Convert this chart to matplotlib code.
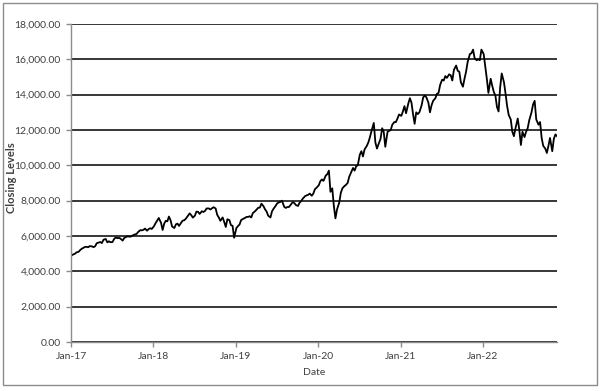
import matplotlib
matplotlib.use("Agg")
import matplotlib.pyplot as plt
import matplotlib.dates as mdates
import numpy as np
import pandas as pd
from matplotlib.patches import Rectangle
from matplotlib.ticker import FuncFormatter

plt.rcParams["font.family"] = ["Lato", "DejaVu Sans"]

# Weekly-ish closing levels, four readings per month
# (around the 4th, 11th, 18th and 25th).
YEARS = [2017, 2018, 2019, 2020, 2021, 2022]
DAYS = [4, 11, 18, 25]

close_2017 = [
    4900, 4960, 4990, 5070, 5110, 5210, 5280, 5330, 5380, 5390, 5360, 5430,
    5410, 5370, 5420, 5590, 5630, 5660, 5600, 5790, 5830, 5640, 5700, 5650,
    5660, 5830, 5920, 5880, 5890, 5820, 5740, 5890, 5960, 5980, 5960, 5980,
    6050, 6090, 6110, 6220, 6330, 6320, 6350, 6420, 6300, 6390, 6440, 6400,
]
close_2018 = [
    6560, 6730, 6880, 7020, 6750, 6340, 6700, 6860, 6830, 7100, 6900, 6540,
    6450, 6660, 6700, 6570, 6750, 6870, 6890, 6980, 7160, 7280, 7180, 7040,
    7150, 7380, 7370, 7250, 7400, 7360, 7420, 7560, 7560, 7500, 7570, 7630,
    7560, 7200, 7050, 6860, 7050, 6800, 6510, 6950, 6900, 6610, 6580, 5900,
]
close_2019 = [
    6450, 6560, 6650, 6900, 6980, 7020, 7080, 7080, 7120, 7050, 7300, 7370,
    7500, 7600, 7610, 7830, 7690, 7510, 7380, 7150, 7050, 7400, 7550, 7670,
    7850, 7900, 7930, 8000, 7650, 7590, 7640, 7640, 7800, 7920, 7860, 7750,
    7700, 7880, 7980, 8110, 8250, 8300, 8330, 8400, 8280, 8400, 8650, 8730,
]
close_2020 = [
    8870, 9100, 9200, 9120, 9420, 9500, 9700, 8500, 8700, 7700, 7000, 7500,
    7900, 8450, 8700, 8800, 8900, 9000, 9350, 9550, 9850, 9700, 9950, 10000,
    10600, 10800, 10500, 10900, 11100, 11300, 11600, 11950, 12400, 11300, 10950, 11200,
    11500, 12100, 11900, 11050, 11900, 11950, 12000, 12300, 12450, 12450, 12650, 12880,
]
close_2021 = [
    12800, 13050, 13350, 12950, 13500, 13800, 13550, 12900, 12350, 13000, 12900, 13000,
    13400, 13850, 13950, 13850, 13550, 13000, 13400, 13650, 13800, 14050, 14100, 14550,
    14850, 14800, 15050, 14950, 15150, 15100, 14800, 15400, 15650, 15350, 15300, 14700,
    14450, 14900, 15300, 15850, 16300, 16350, 16550, 16050, 15950, 16000, 15950, 16550,
]
close_2022 = [
    16300, 15600, 14900, 14100, 14900, 14500, 14150, 13950, 13300, 13050, 14400, 15200,
    14700, 14050, 13350, 12850, 12600, 11900, 11650, 12100, 12650, 12000, 11150, 11900,
    11600, 11900, 12100, 12550, 13000, 13450, 13650, 12600, 12300, 12450, 11550, 11100,
    10950, 10700, 11100, 11550, 10800, 11500, 11750, 11650,
]

levels = close_2017 + close_2018 + close_2019 + close_2020 + close_2021 + close_2022
dates = []
for yr, vals in zip(YEARS, [close_2017, close_2018, close_2019, close_2020, close_2021, close_2022]):
    for i in range(len(vals)):
        dates.append(pd.Timestamp(yr, i // 4 + 1, DAYS[i % 4]))
series = pd.Series(levels, index=pd.DatetimeIndex(dates))

TEXT = "#404040"
AXIS = "#8c8c8c"

fig = plt.figure(figsize=(6.0, 3.91), dpi=100)
fig.patches.append(Rectangle((3 / 600, 6 / 391), 594 / 600, 382 / 391,
                             transform=fig.transFigure, fill=False,
                             edgecolor=AXIS, linewidth=1.0))
ax = fig.add_axes([71 / 600, 1 - 342 / 391, 486 / 600, 318 / 391])

ax.plot(series.index, series.values, color="black", linewidth=1.3)

ax.set_ylim(0, 18000)
ax.set_yticks(np.arange(0, 18001, 2000))
ax.yaxis.set_major_formatter(FuncFormatter(lambda v, _: f"{v:,.2f}"))
ax.set_xlim(pd.Timestamp(2017, 1, 1), series.index[-1])
ax.xaxis.set_major_locator(mdates.YearLocator())
ax.xaxis.set_major_formatter(mdates.DateFormatter("%b-%y"))

ax.grid(axis="y", color="black", linewidth=1.1)
ax.set_axisbelow(True)
for side in ["top", "right"]:
    ax.spines[side].set_visible(False)
for side in ["left", "bottom"]:
    ax.spines[side].set_color(AXIS)
    ax.spines[side].set_linewidth(1.0)
ax.tick_params(axis="both", colors=AXIS, labelcolor=TEXT, labelsize=7.5,
               length=3.5, width=1.0, direction="out")
ax.tick_params(axis="x", pad=4)
ax.tick_params(axis="y", pad=4)

ax.set_xlabel("Date", fontsize=7.5, color=TEXT, labelpad=5)
ax.set_ylabel("Closing Levels", fontsize=8, fontweight="bold", color=TEXT)
ax.yaxis.set_label_coords(-0.111, 0.517)

fig.savefig("out.png", dpi=100)
